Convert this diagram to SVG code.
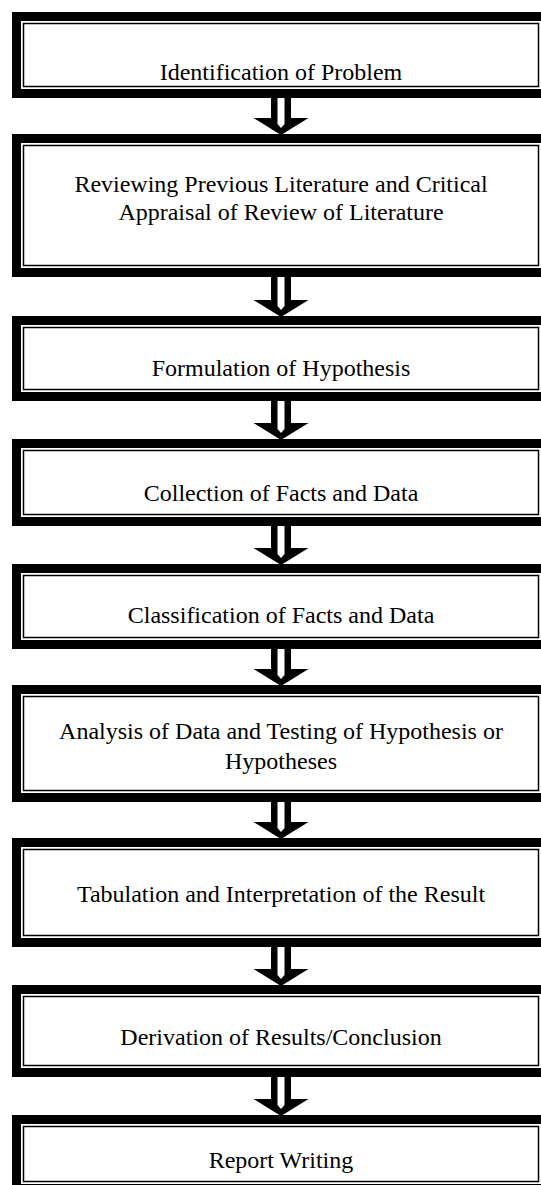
<svg xmlns="http://www.w3.org/2000/svg" width="541" height="1185" viewBox="0 0 541 1185">
<style>
.outer{fill:#fff;stroke:#000;stroke-width:9}
.inner{fill:none;stroke:#000;stroke-width:1.5}
.lbl{font-family:"Liberation Serif","Times New Roman",serif;font-size:24px;fill:#000;text-anchor:middle}
.ah{fill:#000}
.ai{fill:#fff}
</style>
<rect width="541" height="1185" fill="#fff"/>
<g id="n1"><rect class="outer" x="16.5" y="16.5" width="529" height="77"/><rect class="inner" x="23.5" y="23.5" width="515" height="63"/><text class="lbl" x="281" y="80">Identification of Problem</text></g>
<g id="n2"><rect class="outer" x="16.5" y="138.5" width="529" height="134"/><rect class="inner" x="23.5" y="145.5" width="515" height="120"/><text class="lbl" x="281" y="192">Reviewing Previous Literature and Critical</text><text class="lbl" x="281" y="220">Appraisal of Review of Literature</text></g>
<g id="n3"><rect class="outer" x="16.5" y="320.5" width="529" height="76"/><rect class="inner" x="23.5" y="327.5" width="515" height="62"/><text class="lbl" x="281" y="376">Formulation of Hypothesis</text></g>
<g id="n4"><rect class="outer" x="16.5" y="443.5" width="529" height="78"/><rect class="inner" x="23.5" y="450.5" width="515" height="64"/><text class="lbl" x="281" y="501">Collection of Facts and Data</text></g>
<g id="n5"><rect class="outer" x="16.5" y="568.5" width="529" height="76"/><rect class="inner" x="23.5" y="575.5" width="515" height="62"/><text class="lbl" x="281" y="623">Classification of Facts and Data</text></g>
<g id="n6"><rect class="outer" x="16.5" y="689.5" width="529" height="108"/><rect class="inner" x="23.5" y="696.5" width="515" height="94"/><text class="lbl" x="281" y="739">Analysis of Data and Testing of Hypothesis or</text><text class="lbl" x="281" y="769">Hypotheses</text></g>
<g id="n7"><rect class="outer" x="16.5" y="842.5" width="529" height="100"/><rect class="inner" x="23.5" y="849.5" width="515" height="86"/><text class="lbl" x="281" y="902">Tabulation and Interpretation of the Result</text></g>
<g id="n8"><rect class="outer" x="16.5" y="989.5" width="529" height="83"/><rect class="inner" x="23.5" y="996.5" width="515" height="69"/><text class="lbl" x="281" y="1045">Derivation of Results/Conclusion</text></g>
<g id="n9"><rect class="outer" x="16.5" y="1119.5" width="529" height="69"/><rect class="inner" x="23.5" y="1126.5" width="515" height="55"/><text class="lbl" x="281" y="1168">Report Writing</text></g>
<g id="connectors">
<g><path class="ah" d="M271,98H291V118H308.5L281,135L253.5,118H271Z"/><path class="ai" d="M277.5,98H284.5V124L281,128L277.5,124Z"/></g>
<g><path class="ah" d="M271,277H291V300H308.5L281,317L253.5,300H271Z"/><path class="ai" d="M277.5,277H284.5V306L281,310L277.5,306Z"/></g>
<g><path class="ah" d="M271,401H291V423H308.5L281,440L253.5,423H271Z"/><path class="ai" d="M277.5,401H284.5V429L281,433L277.5,429Z"/></g>
<g><path class="ah" d="M271,526H291V548H308.5L281,565L253.5,548H271Z"/><path class="ai" d="M277.5,526H284.5V554L281,558L277.5,554Z"/></g>
<g><path class="ah" d="M271,649H291V669H308.5L281,686L253.5,669H271Z"/><path class="ai" d="M277.5,649H284.5V675L281,679L277.5,675Z"/></g>
<g><path class="ah" d="M271,802H291V822H308.5L281,839L253.5,822H271Z"/><path class="ai" d="M277.5,802H284.5V828L281,832L277.5,828Z"/></g>
<g><path class="ah" d="M271,947H291V969H308.5L281,986L253.5,969H271Z"/><path class="ai" d="M277.5,947H284.5V975L281,979L277.5,975Z"/></g>
<g><path class="ah" d="M271,1077H291V1099H308.5L281,1116L253.5,1099H271Z"/><path class="ai" d="M277.5,1077H284.5V1105L281,1109L277.5,1105Z"/></g>
</g>
</svg>
